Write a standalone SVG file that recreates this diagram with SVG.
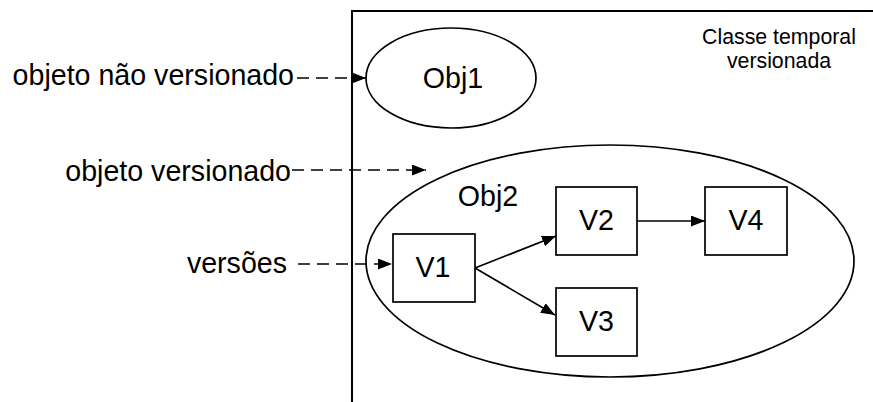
<svg xmlns="http://www.w3.org/2000/svg" width="873" height="402" viewBox="0 0 873 402">
  <style>
    .shape { fill: #ffffff; stroke: #000000; stroke-width: 1.7; }
    .label { font-family: "Liberation Sans", Arial, sans-serif; font-size: 28.6px; fill: #000000; }
    .small { font-family: "Liberation Sans", Arial, sans-serif; font-size: 21.3px; fill: #000000; }
    .edge { fill: none; stroke: #000000; stroke-width: 1.7; }
    .dash { stroke-dasharray: 12 7; }
  </style>
  <defs>
    <marker id="arrow" viewBox="0 0 14 11" refX="14" refY="5.5" markerWidth="14" markerHeight="11" markerUnits="userSpaceOnUse" orient="auto">
      <path d="M0,0 L14,5.5 L0,11 Z" fill="#000000"/>
    </marker>
  </defs>

  <!-- class frame (open to the right and bottom) -->
  <g id="classe">
    <path d="M352,402 L352,11 L873,11" fill="none" stroke="#000000" stroke-width="2"/>
    <text class="small" x="779" y="44" text-anchor="middle">Classe temporal</text>
    <text class="small" x="779" y="68" text-anchor="middle">versionada</text>
  </g>

  <!-- side labels -->
  <g id="lbl-naoversionado">
    <text class="label" x="294" y="85" text-anchor="end">objeto não versionado</text>
  </g>
  <g id="lbl-versionado">
    <text class="label" x="291" y="180.5" text-anchor="end">objeto versionado</text>
  </g>
  <g id="lbl-versoes">
    <text class="label" x="287" y="272.5" text-anchor="end">versões</text>
  </g>

  <!-- unversioned object -->
  <g id="obj1">
    <ellipse class="shape" cx="451" cy="78" rx="85" ry="50"/>
    <text class="label" x="453" y="88" text-anchor="middle">Obj1</text>
  </g>

  <!-- versioned object -->
  <g id="obj2">
    <ellipse class="shape" cx="610" cy="261" rx="244" ry="116"/>
    <text class="label" x="488" y="206" text-anchor="middle">Obj2</text>
  </g>

  <g id="v1">
    <rect class="shape" x="393" y="234" width="82" height="68"/>
    <text class="label" x="433" y="277" text-anchor="middle">V1</text>
  </g>
  <g id="v2">
    <rect class="shape" x="556" y="187" width="81" height="68"/>
    <text class="label" x="596.5" y="230" text-anchor="middle">V2</text>
  </g>
  <g id="v3">
    <rect class="shape" x="556" y="288" width="81" height="68"/>
    <text class="label" x="596.5" y="331" text-anchor="middle">V3</text>
  </g>
  <g id="v4">
    <rect class="shape" x="705" y="187" width="82" height="68"/>
    <text class="label" x="746" y="230" text-anchor="middle">V4</text>
  </g>

  <!-- connectors -->
  <g id="connectors">
    <line class="edge dash" x1="297" y1="78" x2="366" y2="78" marker-end="url(#arrow)"/>
    <line class="edge dash" x1="292" y1="170" x2="426" y2="170" marker-end="url(#arrow)"/>
    <line class="edge dash" x1="298" y1="264" x2="392" y2="264" marker-end="url(#arrow)"/>
    <line class="edge" x1="475" y1="268" x2="556" y2="236" marker-end="url(#arrow)"/>
    <line class="edge" x1="475" y1="268" x2="555" y2="315" marker-end="url(#arrow)"/>
    <line class="edge" x1="637" y1="221" x2="705" y2="221" marker-end="url(#arrow)"/>
  </g>
</svg>
